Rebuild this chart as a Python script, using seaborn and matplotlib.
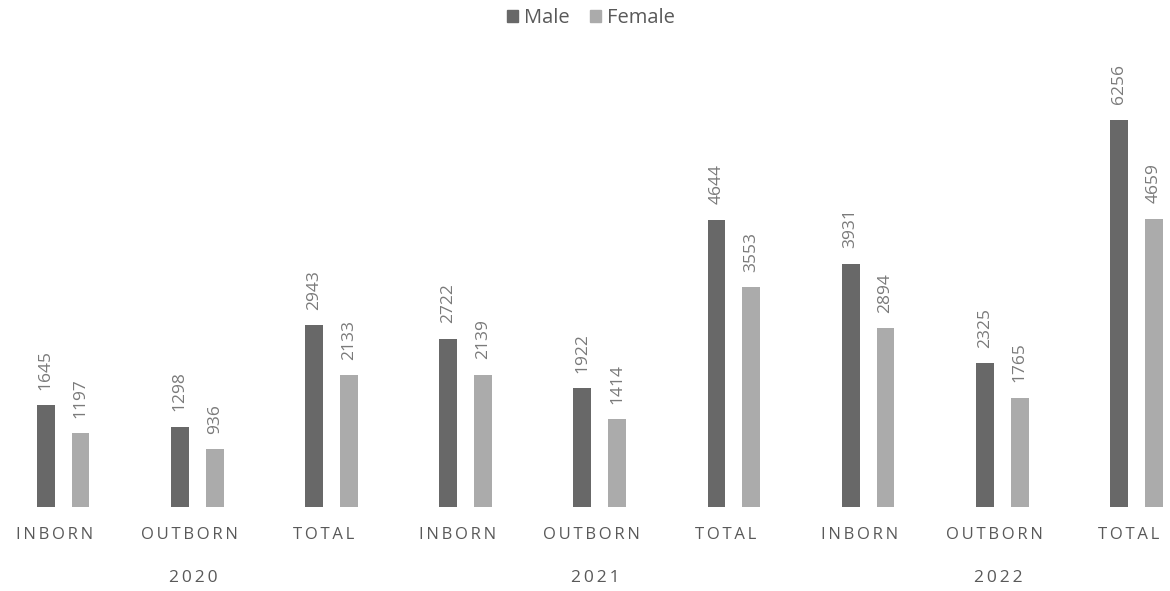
import matplotlib
matplotlib.use("Agg")
import matplotlib.pyplot as plt
import matplotlib.transforms as mtransforms
from matplotlib.patches import Patch
import seaborn as sns
import pandas as pd

categories = ["INBORN", "OUTBORN", "TOTAL", "INBORN", "OUTBORN", "TOTAL", "INBORN", "OUTBORN", "TOTAL"]
years = ["2020", "2021", "2022"]
male = [1645, 1298, 2943, 2722, 1922, 4644, 3931, 2325, 6256]
female = [1197, 936, 2133, 2139, 1414, 3553, 2894, 1765, 4659]
series = ["Male", "Female"]

sns.set_theme(style="white")
plt.rcParams['font.family'] = ['Open Sans', 'DejaVu Sans']

rows = []
for i in range(len(categories)):
    rows.append({"pos": i, "sex": "Male", "value": male[i]})
    rows.append({"pos": i, "sex": "Female", "value": female[i]})
df = pd.DataFrame(rows)

fig = plt.figure(figsize=(11.7, 5.91), dpi=100)
ax = fig.add_axes([0, 84/591, 1, (507-60)/591])

colors = {"Male": "#686868", "Female": "#ababab"}
sns.barplot(data=df, x="pos", y="value", hue="sex", hue_order=series,
            palette=colors, width=0.52, gap=0.49, ax=ax, native_scale=True,
            legend=False, linewidth=0, errorbar=None)

ax.set_xlim(-0.47, 8.25)
ax.set_ylim(0, 447/0.0619)
for s in ax.spines.values():
    s.set_visible(False)
ax.set_xticks([])
ax.set_yticks([])
ax.set_xlabel("")
ax.set_ylabel("")

for cont in ax.containers:
    for bar in cont:
        h = bar.get_height()
        ax.annotate(f"{int(h)}", (bar.get_x() + bar.get_width()/2, h),
                    xytext=(0, 11), textcoords="offset points",
                    rotation=90, ha="center", va="bottom",
                    fontsize=12.5, color="#7a7a7a")

trans = mtransforms.blended_transform_factory(ax.transData, fig.transFigure)
for i, c in enumerate(categories):
    ax.text(i - 0.06, 1 - 535/591, "\u2009".join(list(c)),
            transform=trans, ha="center", va="center", fontsize=12,
            color="#595959")
for j, y in enumerate(years):
    ax.text(3*j + 1 - 0.03, 1 - 578/591, "\u2009".join(list(y)), transform=trans,
            ha="center", va="center", fontsize=12.5, color="#595959")

handles = [Patch(color=colors[s], label=s) for s in series]
fig.legend(handles=handles, loc="center", bbox_to_anchor=(0.505, 1 - 18/591),
           ncol=2, frameon=False, fontsize=14.5, handlelength=0.55, handleheight=0.55,
           handletextpad=0.3, columnspacing=1.0, labelcolor="#595959")

fig.savefig("out.png", dpi=100)
